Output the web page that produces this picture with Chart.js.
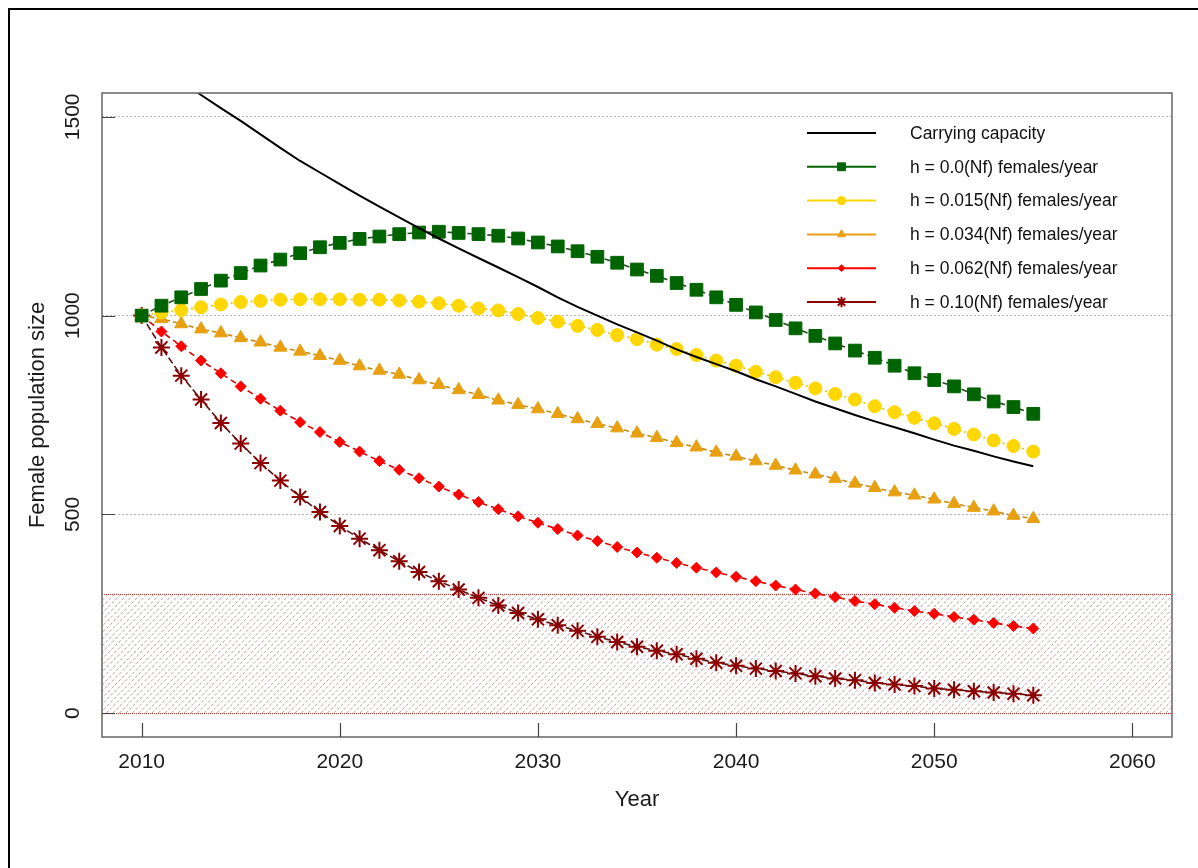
<!DOCTYPE html>
<html>
<head>
<meta charset="utf-8">
<title>Female population size</title>
<script src="https://cdn.jsdelivr.net/npm/chart.js@4.4.1/dist/chart.umd.min.js"></script>
<style>
  html, body { margin: 0; padding: 0; background: #fff; }
  #wrap { width: 1198px; height: 868px; }
</style>
</head>
<body>
<div id="wrap"><canvas id="popChart" width="1198" height="868"></canvas></div>
<script>
var years = [2010, 2011, 2012, 2013, 2014, 2015, 2016, 2017, 2018, 2019,
  2020, 2021, 2022, 2023, 2024, 2025, 2026, 2027, 2028, 2029,
  2030, 2031, 2032, 2033, 2034, 2035, 2036, 2037, 2038, 2039,
  2040, 2041, 2042, 2043, 2044, 2045, 2046, 2047, 2048, 2049,
  2050, 2051, 2052, 2053, 2054, 2055];

var carrying = [1665, 1625, 1590, 1555, 1522, 1490, 1456, 1422, 1389, 1360,
  1331, 1302, 1274, 1247, 1220, 1194, 1169, 1145, 1121, 1097,
  1072, 1046, 1022, 1000, 978, 958, 937, 915, 896, 878,
  860, 840, 822, 803, 784, 767, 750, 734, 719, 704,
  688, 673, 660, 646, 633, 621];

var h000 = [1000, 1025, 1046, 1067, 1088, 1107, 1126, 1141, 1157, 1172,
  1183, 1193, 1199, 1205, 1209, 1211, 1208, 1205, 1201, 1194,
  1184, 1174, 1162, 1148, 1133, 1116, 1100, 1082, 1065, 1046,
  1027, 1008, 989, 968, 949, 930, 912, 894, 874, 855,
  838, 822, 802, 784, 770, 753];

var h015 = [1000, 1008, 1014, 1021, 1028, 1034, 1037, 1040, 1041, 1041,
  1041, 1040, 1040, 1038, 1035, 1031, 1025, 1018, 1013, 1004,
  994, 985, 974, 964, 951, 941, 927, 916, 901, 887,
  874, 859, 845, 831, 817, 803, 789, 772, 757, 743,
  729, 715, 701, 686, 672, 658];

var h034 = [1000, 992, 979, 966, 956, 944, 933, 920, 910, 899,
  887, 873, 862, 852, 838, 826, 813, 801, 787, 776,
  765, 753, 740, 728, 717, 704, 693, 680, 669, 656,
  646, 634, 623, 611, 601, 590, 578, 567, 556, 548,
  538, 527, 517, 508, 497, 489];

var h062 = [1000, 960, 923, 887, 855, 822, 791, 761, 732, 707,
  682, 658, 634, 612, 591, 570, 550, 531, 513, 495,
  479, 463, 447, 433, 418, 404, 391, 378, 366, 354,
  343, 332, 321, 311, 301, 292, 282, 274, 265, 257,
  250, 242, 235, 227, 219, 213];

var h100 = [1000, 920, 849, 789, 730, 678, 629, 585, 544, 506,
  471, 439, 410, 382, 355, 332, 311, 290, 271, 252,
  236, 221, 207, 192, 179, 167, 157, 148, 137, 127,
  119, 112, 106, 100, 93, 87, 83, 76, 72, 68,
  62, 59, 55, 52, 49, 45];

var seriesLabels = [
  "Carrying capacity",
  "h = 0.0(Nf) females/year",
  "h = 0.015(Nf) females/year",
  "h = 0.034(Nf) females/year",
  "h = 0.062(Nf) females/year",
  "h = 0.10(Nf) females/year"
];

var xTicks = [2010, 2020, 2030, 2040, 2050, 2060];
var yTicks = [0, 500, 1000, 1500];
var riskBand = [0, 300]; // hatched low-population zone

var FONT = "'Liberation Sans', Arial, sans-serif";

function pts(vals) {
  return vals.map(function (v, i) { return { x: years[i], y: v }; });
}

function series(label, vals, color, lineColor, style, radius, dash) {
  return {
    label: label,
    data: pts(vals),
    borderColor: lineColor,
    backgroundColor: color,
    borderWidth: 1.6,
    borderDash: dash,
    pointStyle: style,
    pointRadius: radius,
    pointBackgroundColor: color,
    pointBorderColor: color,
    pointBorderWidth: style === "star" ? 2 : 1,
    legendRadius: radius * 0.62,
    tension: 0
  };
}

var datasets = [
  {
    label: seriesLabels[0],
    data: pts(carrying),
    borderColor: "#000000",
    backgroundColor: "#000000",
    borderWidth: 2,
    pointRadius: 0,
    tension: 0
  },
  series(seriesLabels[1], h000, "#006400", "#1d4d1d", "rect", 9, [6, 4]),
  series(seriesLabels[2], h015, "#FFD700", "#E6C200", "circle", 6.5, [2, 3]),
  series(seriesLabels[3], h034, "#E8A010", "#C88A10", "triangle", 7.5, [5, 3]),
  series(seriesLabels[4], h062, "#FF0000", "#E00000", "rectRot", 5.5, [6, 4]),
  series(seriesLabels[5], h100, "#8B0000", "#5a1010", "star", 8.5, [7, 3])
];

// frame, hatched band, inward ticks, rotated y labels, legend
var decor = {
  id: "decor",
  beforeDraw: function (chart) {
    var c = chart.ctx;
    c.save();
    c.fillStyle = "#ffffff";
    c.fillRect(0, 0, chart.width, chart.height);
    c.strokeStyle = "#000000";
    c.lineWidth = 2;
    c.strokeRect(9, 9, chart.width + 20, chart.height + 20);
    c.restore();
  },
  beforeDatasetsDraw: function (chart) {
    var c = chart.ctx, a = chart.chartArea, ys = chart.scales.y;
    var top = ys.getPixelForValue(riskBand[1]);
    var bot = ys.getPixelForValue(riskBand[0]);
    var h = bot - top;
    c.save();
    c.beginPath();
    c.rect(a.left, top, a.right - a.left, h);
    c.clip();
    c.strokeStyle = "rgba(150,95,95,0.7)";
    c.lineWidth = 0.9;
    c.setLineDash([3, 2]);
    c.beginPath();
    for (var x = a.left - h; x < a.right; x += 6.5) {
      c.moveTo(x, bot);
      c.lineTo(x + h, top);
    }
    c.stroke();
    c.restore();
    c.save();
    c.strokeStyle = "#b02020";
    c.lineWidth = 1;
    c.setLineDash([1, 1]);
    c.beginPath();
    c.moveTo(a.left, top + 0.5); c.lineTo(a.right, top + 0.5);
    c.moveTo(a.left, bot + 0.5); c.lineTo(a.right, bot + 0.5);
    c.stroke();
    c.restore();
  },
  afterDatasetsDraw: function (chart) {
    var c = chart.ctx, a = chart.chartArea;
    var xs = chart.scales.x, ys = chart.scales.y;
    c.save();
    // plot box
    c.strokeStyle = "#666666";
    c.lineWidth = 1.5;
    c.strokeRect(a.left, a.top, a.right - a.left, a.bottom - a.top);
    // inward ticks
    c.lineWidth = 1.2;
    c.strokeStyle = "#444444";
    c.beginPath();
    xs.ticks.forEach(function (t) {
      var px = Math.round(xs.getPixelForValue(t.value)) + 0.5;
      c.moveTo(px, a.bottom); c.lineTo(px, a.bottom - 14);
    });
    ys.ticks.forEach(function (t) {
      var py = Math.round(ys.getPixelForValue(t.value)) + 0.5;
      c.moveTo(a.left, py); c.lineTo(a.left + 13, py);
    });
    c.stroke();
    // rotated y tick labels
    c.fillStyle = "#1a1a1a";
    c.font = "21px " + FONT;
    c.textAlign = "center";
    c.textBaseline = "middle";
    ys.ticks.forEach(function (t) {
      c.save();
      c.translate(73, ys.getPixelForValue(t.value));
      c.rotate(-Math.PI / 2);
      c.fillText(String(t.value), 0, 0);
      c.restore();
    });
    // legend
    var lx0 = 807, lx1 = 876, mx = 841.5, tx = 910, y0 = 133, dy = 33.8;
    c.font = "17.5px " + FONT;
    c.textAlign = "left";
    chart.data.datasets.forEach(function (ds, i) {
      var y = y0 + i * dy;
      c.save();
      c.strokeStyle = i === 0 ? "#000000" : ds.backgroundColor;
      c.lineWidth = 2;
      c.setLineDash([]);
      c.beginPath();
      c.moveTo(lx0, y); c.lineTo(lx1, y);
      c.stroke();
      if (ds.pointRadius > 0) {
        c.fillStyle = ds.pointBackgroundColor;
        c.strokeStyle = ds.pointBorderColor;
        c.lineWidth = ds.pointStyle === "star" ? 2 : 1;
        Chart.helpers.drawPoint(c, { pointStyle: ds.pointStyle, radius: ds.legendRadius, rotation: 0, borderWidth: c.lineWidth }, mx, y);
      }
      c.restore();
      c.fillStyle = "#111111";
      c.fillText(ds.label, tx, y + 1);
    });
    c.restore();
  }
};

var ctx = document.getElementById("popChart").getContext("2d");
var popChart = new Chart(ctx, {
  type: "line",
  data: { datasets: datasets },
  options: {
    responsive: false,
    animation: false,
    devicePixelRatio: 1,
    layout: { padding: { top: 93, right: 26, left: 0, bottom: 0 } },
    plugins: {
      legend: { display: false },
      tooltip: { enabled: false }
    },
    scales: {
      x: {
        type: "linear",
        min: 2008,
        max: 2062,
        afterBuildTicks: function (scale) {
          scale.ticks = xTicks.map(function (v) { return { value: v }; });
        },
        afterFit: function (scale) { scale.height = 131; },
        grid: { display: false, drawTicks: false },
        border: { display: false },
        ticks: {
          color: "#1a1a1a",
          padding: 13,
          maxRotation: 0,
          font: { family: FONT, size: 21 },
          callback: function (v) { return String(v); }
        },
        title: {
          display: true,
          text: "Year",
          color: "#1a1a1a",
          font: { family: FONT, size: 22 },
          padding: { top: 0, bottom: 55 }
        }
      },
      y: {
        type: "linear",
        min: -60,
        max: 1560,
        afterBuildTicks: function (scale) {
          scale.ticks = yTicks.map(function (v) { return { value: v }; });
        },
        afterFit: function (scale) { scale.width = 102; },
        grid: {
          drawTicks: false,
          lineWidth: 1,
          color: function (c) {
            return c.tick && c.tick.value === 0 ? "rgba(0,0,0,0)" : "#b8b8b8";
          }
        },
        border: { display: false, dash: [2, 2] },
        ticks: { display: false },
        title: {
          display: true,
          text: "Female population size",
          color: "#1a1a1a",
          font: { family: FONT, size: 22 },
          padding: { top: 25, bottom: 0 }
        }
      }
    }
  },
  plugins: [decor]
});
</script>
</body>
</html>
